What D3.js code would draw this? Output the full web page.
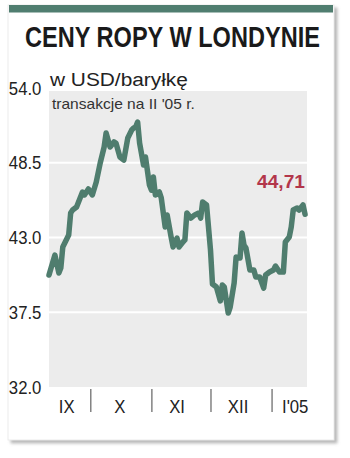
<!DOCTYPE html>
<html>
<head>
<meta charset="utf-8">
<script src="https://cdn.jsdelivr.net/npm/d3@7"></script>
<style>
  body { margin: 0; background: #fff; }
  text { font-family: "Liberation Sans Narrow", "Liberation Sans", Arial, sans-serif; }
</style>
</head>
<body>
<div id="wrapper"></div>
<script>
// data
const dates = [
  "2004-09-10","2004-09-13","2004-09-15","2004-09-16","2004-09-17","2004-09-20","2004-09-21","2004-09-22",
  "2004-09-24","2004-09-27","2004-09-28","2004-09-30","2004-10-02","2004-10-04","2004-10-06","2004-10-08",
  "2004-10-09","2004-10-11","2004-10-13","2004-10-14","2004-10-16","2004-10-18","2004-10-20","2004-10-22",
  "2004-10-23","2004-10-24","2004-10-25","2004-10-26","2004-10-28","2004-10-29","2004-10-31","2004-11-01",
  "2004-11-02","2004-11-03","2004-11-05","2004-11-06","2004-11-08","2004-11-09","2004-11-11","2004-11-12",
  "2004-11-14","2004-11-15","2004-11-17","2004-11-18","2004-11-19","2004-11-21","2004-11-23","2004-11-25",
  "2004-11-26","2004-11-27","2004-11-29","2004-12-01","2004-12-02","2004-12-04","2004-12-06","2004-12-07",
  "2004-12-08","2004-12-10","2004-12-11","2004-12-13","2004-12-14","2004-12-16","2004-12-17","2004-12-18",
  "2004-12-19","2004-12-21","2004-12-23","2004-12-24","2004-12-26","2004-12-28","2004-12-29","2004-12-31",
  "2005-01-02","2005-01-03","2005-01-05","2005-01-07","2005-01-08","2005-01-10","2005-01-11","2005-01-12",
  "2005-01-14","2005-01-15","2005-01-17","2005-01-18"
]
const prices = [
  40.24,41.71,40.39,40.75,42.30,43.18,44.80,45.02,
  45.24,46.35,46.13,46.57,46.13,47.08,48.48,49.66,
  50.69,49.66,50.03,49.95,48.92,48.70,50.32,50.91,
  51.06,51.13,51.50,49.95,48.33,48.92,46.86,46.49,
  47.45,46.13,46.35,45.91,43.77,44.66,43.04,42.30,
  42.96,42.30,42.67,42.82,44.80,44.43,44.66,44.80,
  44.43,45.61,45.39,42.08,39.58,39.36,38.33,39.50,
  39.36,37.44,37.88,39.65,41.56,41.49,43.33,42.45,
  42.23,40.61,40.61,40.09,40.09,39.28,40.24,40.46,
  40.61,40.90,40.46,40.46,42.67,43.04,43.77,45.02,
  45.17,45.02,45.39,44.71
]
const yTicks = [32.0, 37.5, 43.0, 48.5, 54.0]
const monthStarts = ["2004-10-01", "2004-11-01", "2004-12-01", "2005-01-01"]
const monthLabels = ["IX", "X", "XI", "XII", "I'05"]
const monthLabelDates = ["2004-09-19", "2004-10-16", "2004-11-14", "2004-12-15", "2005-01-13"]
const lastValueLabel = "44,71"

const parseDate = d3.timeParse("%Y-%m-%d")
const data = dates.map((d, i) => ({ date: parseDate(d), value: prices[i] }))

const width = 350, height = 458
const plot = { left: 49, right: 307, top: 88, bottom: 387 }
const condensed = 0.88

const svg = d3.select("#wrapper").append("svg")
    .attr("width", width)
    .attr("height", height)

const defs = svg.append("defs")
defs.append("filter")
    .attr("id", "shadow")
    .attr("x", "-5%").attr("y", "-5%").attr("width", "115%").attr("height", "115%")
  .append("feDropShadow")
    .attr("dx", 3).attr("dy", 3)
    .attr("stdDeviation", 1.5)
    .attr("flood-color", "#8a8a8a")
    .attr("flood-opacity", 0.6)

// card
svg.append("rect")
    .attr("x", 8).attr("y", 5)
    .attr("width", 326).attr("height", 435)
    .attr("fill", "#fff")
    .attr("stroke", "#e6e6e6")
    .attr("stroke-width", 0.8)
    .attr("filter", "url(#shadow)")

svg.append("rect")
    .attr("x", 9).attr("y", 5)
    .attr("width", 324).attr("height", 7.5)
    .attr("fill", "#507e70")

// scales
const x = d3.scaleTime()
    .domain([parseDate("2004-09-10"), parseDate("2005-01-19")])
    .range([plot.left, plot.right])

const y = d3.scaleLinear()
    .domain([32, 54])
    .range([plot.bottom, plot.top])

// plot background
svg.append("rect")
    .attr("x", plot.left)
    .attr("y", y(54) + 3)
    .attr("width", plot.right - plot.left)
    .attr("height", y(32) - y(54) - 3)
    .attr("fill", "#ececec")

// grid
svg.append("g")
  .selectAll("line")
  .data(yTicks.filter(d => d > 32 && d < 54))
  .join("line")
    .attr("x1", plot.left).attr("x2", plot.right)
    .attr("y1", d => y(d)).attr("y2", d => y(d))
    .attr("stroke", "#fff")
    .attr("stroke-width", 2)

// y axis labels
const yAxis = svg.append("g")
    .attr("transform", `translate(${plot.left - 5},0)`)
    .call(d3.axisLeft(y).tickValues(yTicks).tickFormat(d3.format(".1f")).tickSize(0))
yAxis.select(".domain").remove()
yAxis.selectAll("text")
    .attr("font-size", 19)
    .attr("font-family", null)
    .attr("fill", "#222")
    .attr("transform", `scale(${condensed},1)`)

// x axis: separators at month starts, labels mid month
const xSep = svg.append("g")
    .attr("transform", `translate(0,${plot.bottom + 2})`)
    .call(d3.axisBottom(x).tickValues(monthStarts.map(parseDate)).tickSize(23).tickFormat(""))
xSep.select(".domain").remove()
xSep.selectAll(".tick line").attr("stroke", "#444").attr("stroke-width", 1)

svg.append("g")
  .selectAll("text")
  .data(monthLabels)
  .join("text")
    .attr("transform", (d, i) => `translate(${x(parseDate(monthLabelDates[i]))},413) scale(${condensed},1)`)
    .attr("text-anchor", "middle")
    .attr("font-size", 19)
    .attr("fill", "#222")
    .text(d => d)

// line
const line = d3.line()
    .x(d => x(d.date))
    .y(d => y(d.value))

svg.append("path")
    .datum(data)
    .attr("d", line)
    .attr("fill", "none")
    .attr("stroke", "#4f7d6e")
    .attr("stroke-width", 5.5)
    .attr("stroke-linejoin", "round")
    .attr("stroke-linecap", "round")

// fit a text to a given width by squeezing it horizontally
function squeezed(sel, x0, y0, w) {
  const len = sel.node().getComputedTextLength()
  sel.attr("transform", `translate(${x0},${y0}) scale(${w / len},1)`)
  return sel
}

// last value
const lastLabel = svg.append("text")
    .attr("text-anchor", "end")
    .attr("font-size", 19)
    .attr("font-weight", "bold")
    .attr("fill", "#b3364b")
    .text(lastValueLabel)
squeezed(lastLabel, 305, 188, 48)

// titles
squeezed(svg.append("text")
    .attr("font-size", 30)
    .attr("font-weight", "bold")
    .attr("fill", "#1a1a1a")
    .text("CENY ROPY W LONDYNIE"), 25, 47, 295)

squeezed(svg.append("text")
    .attr("font-size", 19)
    .attr("fill", "#222")
    .text("w USD/baryłkę"), 50, 86, 138)

squeezed(svg.append("text")
    .attr("font-size", 14.5)
    .attr("fill", "#333")
    .text("transakcje na II '05 r."), 52, 109, 143)
</script>
</body>
</html>
